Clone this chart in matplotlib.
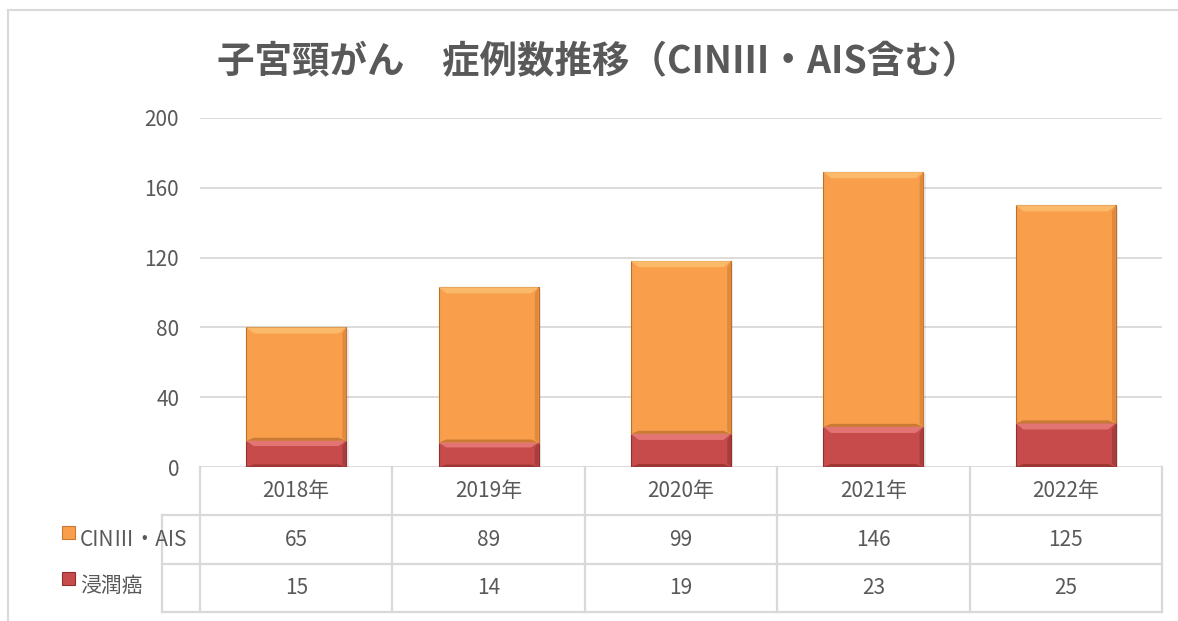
import numpy as np
import matplotlib
matplotlib.use('Agg')
import matplotlib.pyplot as plt
from matplotlib.patches import Polygon, Rectangle
from matplotlib.lines import Line2D

plt.rcParams['font.family'] = ['Noto Sans CJK JP', 'DejaVu Sans']

# data
years = ['2018年', '2019年', '2020年', '2021年', '2022年']
cin_ais = [65, 89, 99, 146, 125]
invasive = [15, 14, 19, 23, 25]
series_names = ['CINⅢ・AIS', '浸潤癌']
yticks = [0, 40, 80, 120, 160, 200]

txt = '#595959'
grid_c = '#d9d9d9'
orange = '#f99f4b'
red = '#c84b4b'

W, H = 1178, 621
fig = plt.figure(figsize=(W / 100, H / 100), dpi=100)

def fx(px):
    return px / W

def fy(py):
    return 1 - py / H

# outer chart border
fig.add_artist(Line2D([fx(8), fx(8)], [fy(10), 0], color=grid_c, lw=1.5))
fig.add_artist(Line2D([fx(8), 1], [fy(10), fy(10)], color=grid_c, lw=1.5))

ax = fig.add_axes([fx(200), fy(467), fx(962), (467 - 118) / H])
x = np.arange(len(years))
ax.set_xlim(-0.5, len(years) - 0.5)
ax.set_ylim(0, 200)
ax.set_yticks(yticks)
ax.set_xticks([])
ax.tick_params(axis='y', length=0, pad=15, labelsize=15, labelcolor=txt)
for s in ax.spines.values():
    s.set_visible(False)
ax.grid(axis='y', color=grid_c, lw=1.3)
ax.set_axisbelow(True)

bw = 0.52
b1 = ax.bar(x, invasive, bw, color=red, edgecolor='#8e3030', lw=0.8, zorder=3)
b2 = ax.bar(x, cin_ais, bw, bottom=invasive, color=orange, edgecolor='#b8702f', lw=0.8, zorder=3)

# bevel look
def bevel(bars, light, dark, side):
    for r in bars:
        x0, y0, w, h = r.get_x(), r.get_y(), r.get_width(), r.get_height()
        x1, y1 = x0 + w, y0 + h
        bx = 0.04
        by = min(3.5, h * 0.2)
        ax.add_patch(Polygon([(x0, y1), (x1, y1), (x1 - bx, y1 - by), (x0 + bx, y1 - by)],
                             closed=True, color=light, lw=0, zorder=4))
        ax.add_patch(Polygon([(x0, y0), (x1, y0), (x1 - bx, y0 + by * 0.5), (x0 + bx, y0 + by * 0.5)],
                             closed=True, color=dark, lw=0, zorder=4))
        ax.add_patch(Polygon([(x1, y0), (x1 - bx * 0.5, y0 + by * 0.5), (x1 - bx * 0.5, y1 - by), (x1, y1)],
                             closed=True, color=side, lw=0, zorder=4))
        # shadow
        ax.add_patch(Rectangle((x0 + 0.012, y0 - 1.0), w, h, color='#000000', alpha=0.08, lw=0, zorder=2))

bevel(b2, '#fbba6a', '#c97a35', '#e08a3e')
bevel(b1, '#e27474', '#9e3636', '#a83d3d')

# data table
tab = fig.add_axes([fx(200), fy(612), fx(962), (612 - 467) / H], sharex=ax)
tab.set_ylim(3, 0)
tab.axis('off')
left = -0.5 - 38 / 192.4
right = len(years) - 0.5
lk = dict(color=grid_c, lw=1.6, clip_on=False)
for i in range(len(years) + 1):
    tab.plot([i - 0.5, i - 0.5], [0, 3], **lk)
tab.plot([left, left], [1, 3], **lk)
for r in [1, 2, 3]:
    tab.plot([left, right], [r, r], **lk)

rows = [cin_ais, invasive]
for j, yr in enumerate(years):
    tab.text(j, 0.5, yr, ha='center', va='center', fontsize=15, color=txt)
    for i, vals in enumerate(rows):
        tab.text(j, i + 1.5, str(vals[j]), ha='center', va='center', fontsize=15, color=txt)

key_cols = [(orange, '#c97a35'), (red, '#8e3030')]
for i, name in enumerate(series_names):
    yc = 540 + i * 46
    fig.add_artist(Rectangle((fx(62), fy(yc - 1)), fx(13), 13 / H, facecolor=key_cols[i][0],
                             edgecolor=key_cols[i][1], lw=0.8))
    fig.text(fx(80), fy(yc), name, ha='left', va='center', fontsize=15, color=txt)

fig.text(0.508, fy(62), '子宮頸がん\u3000症例数推移（CINⅢ・AIS含む）', ha='center', va='center',
         fontsize=27, fontweight='bold', color=txt)

fig.savefig('out.png', dpi=100)
